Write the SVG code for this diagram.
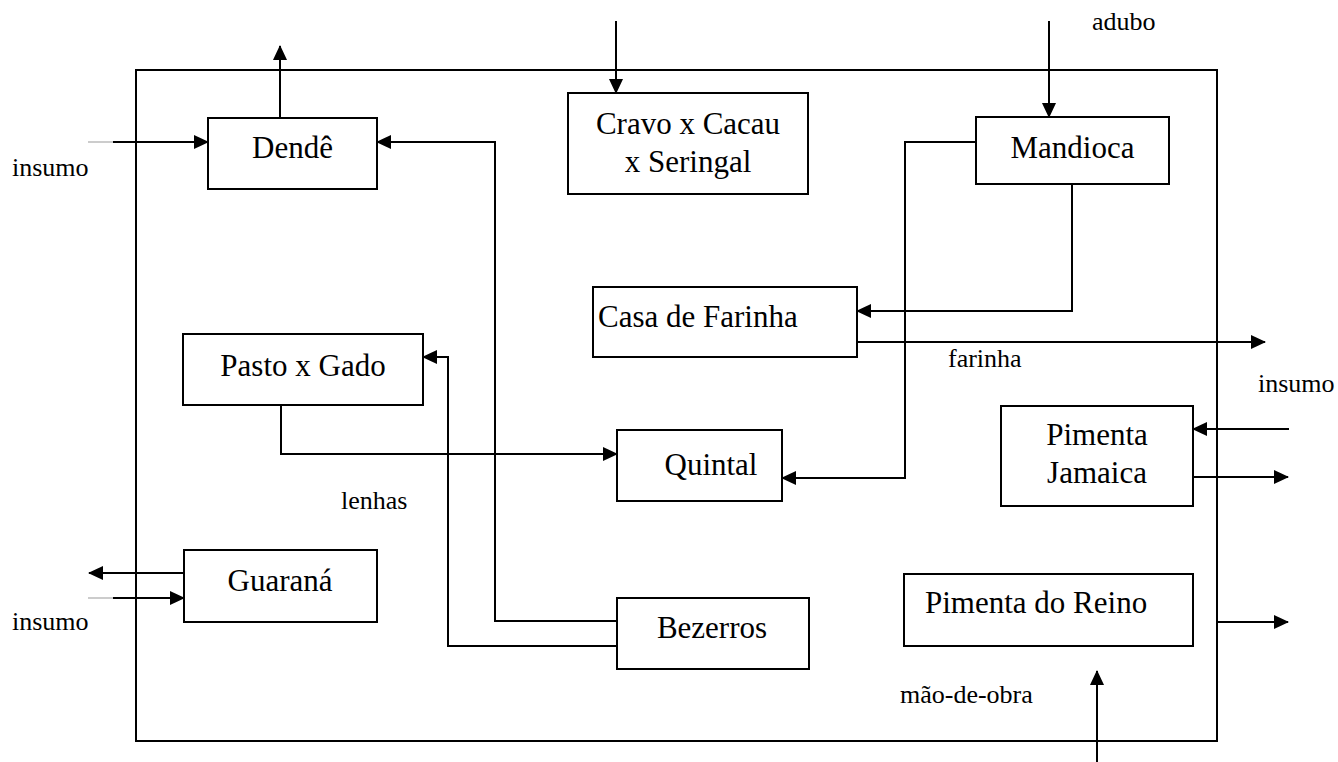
<svg xmlns="http://www.w3.org/2000/svg" width="1338" height="762" viewBox="0 0 1338 762">
  <style>
    .box { fill: #fff; stroke: #000; stroke-width: 2; }
    .frame { fill: none; stroke: #000; stroke-width: 2; }
    .node { font-size: 31px; fill: #000; text-anchor: middle; }
    .lbl { font-size: 26px; fill: #000; }
    .wire { fill: none; stroke: #000; stroke-width: 2; }
    .arr { marker-end: url(#ah); }
    .stub { fill: none; stroke: #999; stroke-width: 1; }
  </style>
  <defs>
    <marker id="ah" viewBox="0 0 15 14" refX="14" refY="7" markerWidth="15" markerHeight="14" markerUnits="userSpaceOnUse" orient="auto">
      <path d="M0,0 L15,7 L0,14 z" fill="#000"/>
    </marker>
  </defs>

  <rect fill="#fff" x="0" y="0" width="1338" height="762"/>

  <!-- property boundary -->
  <rect class="frame" x="136" y="70" width="1081" height="671"/>

  <!-- connectors -->
  <g id="connectors">
    <path class="wire arr" d="M280,118 V46"/>
    <path class="stub" d="M88,142 H113"/>
    <path class="wire arr" d="M113,142 H208"/>
    <path class="wire arr" d="M617,621 H495 V142 H377"/>
    <path class="wire arr" d="M617,646 H448 V357 H423"/>
    <path class="wire arr" d="M281,405 V454 H617"/>
    <path class="wire arr" d="M616,21 V93"/>
    <path class="wire arr" d="M1049,21 V117"/>
    <path class="wire arr" d="M976,142 H905 V478 H782"/>
    <path class="wire arr" d="M1072,184 V311 H857"/>
    <path class="wire arr" d="M857,342 H1265"/>
    <path class="wire arr" d="M1289,429 H1193"/>
    <path class="wire arr" d="M1193,477 H1288"/>
    <path class="wire arr" d="M1217,622 H1288"/>
    <path class="wire arr" d="M1097,762 V671"/>
    <path class="wire arr" d="M184,573 H89"/>
    <path class="stub" d="M88,598 H113"/>
    <path class="wire arr" d="M113,598 H184"/>
  </g>

  <g font-family="'Liberation Serif', 'Times New Roman', Times, serif">
  <!-- nodes -->
  <g id="dende">
    <rect class="box" x="208" y="118" width="169" height="71"/>
    <text class="node" x="292.5" y="158">Dendê</text>
  </g>
  <g id="cravo">
    <rect class="box" x="568" y="93" width="240" height="101"/>
    <text class="node" x="688" y="134">Cravo x Cacau</text>
    <text class="node" x="688" y="172">x Seringal</text>
  </g>
  <g id="mandioca">
    <rect class="box" x="976" y="117" width="193" height="67"/>
    <text class="node" x="1072.5" y="158">Mandioca</text>
  </g>
  <g id="casa-farinha">
    <rect class="box" x="593" y="287" width="264" height="70"/>
    <text class="node" x="598" y="327" text-anchor="start" style="text-anchor:start">Casa de Farinha</text>
  </g>
  <g id="pasto">
    <rect class="box" x="183" y="334" width="240" height="71"/>
    <text class="node" x="303" y="376">Pasto x Gado</text>
  </g>
  <g id="quintal">
    <rect class="box" x="617" y="430" width="165" height="71"/>
    <text class="node" x="711" y="475">Quintal</text>
  </g>
  <g id="pimenta-jamaica">
    <rect class="box" x="1001" y="406" width="192" height="100"/>
    <text class="node" x="1097" y="445">Pimenta</text>
    <text class="node" x="1097" y="483">Jamaica</text>
  </g>
  <g id="guarana">
    <rect class="box" x="184" y="550" width="193" height="72"/>
    <text class="node" x="280" y="591">Guaraná</text>
  </g>
  <g id="bezerros">
    <rect class="box" x="617" y="598" width="192" height="71"/>
    <text class="node" x="712" y="638">Bezerros</text>
  </g>
  <g id="pimenta-reino">
    <rect class="box" x="904" y="574" width="289" height="72"/>
    <text class="node" x="925" y="613" style="text-anchor:start">Pimenta do Reino</text>
  </g>

  <!-- flow labels -->
  <g id="labels">
    <text class="lbl" x="12" y="176">insumo</text>
    <text class="lbl" x="12" y="630">insumo</text>
    <text class="lbl" x="1092" y="30">adubo</text>
    <text class="lbl" x="948" y="367">farinha</text>
    <text class="lbl" x="1258" y="392">insumo</text>
    <text class="lbl" x="341" y="509">lenhas</text>
    <text class="lbl" x="900" y="703">mão-de-obra</text>
  </g>
  </g>
</svg>
